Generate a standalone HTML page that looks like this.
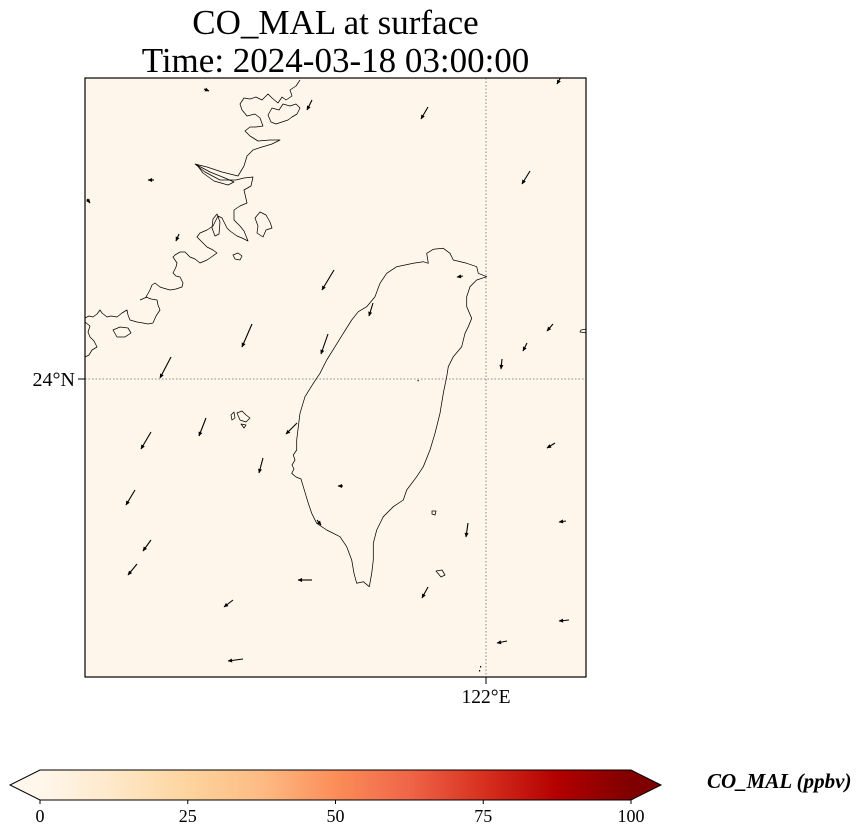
<!DOCTYPE html>
<html>
<head>
<meta charset="utf-8">
<style>
  html, body { margin:0; padding:0; background:#ffffff; }
  body { width:860px; height:836px; overflow:hidden; position:relative; }
  svg { position:absolute; left:0; top:0; }
  .serif { font-family: "Liberation Serif", "Times New Roman", serif; }
</style>
</head>
<body>
<svg width="860" height="836" viewBox="0 0 860 836" xmlns="http://www.w3.org/2000/svg">
  <defs>
    <marker id="ah" viewBox="0 0 10 10" refX="9" refY="5" markerWidth="5" markerHeight="4.5" orient="auto" markerUnits="userSpaceOnUse">
      <path d="M0,0.5 L10,5 L0,9.5 z" fill="#000"/>
    </marker>
    <linearGradient id="cb" x1="0" y1="0" x2="1" y2="0">
      <stop offset="0" stop-color="#fff7ec"/>
      <stop offset="0.125" stop-color="#fee8c8"/>
      <stop offset="0.25" stop-color="#fdd49e"/>
      <stop offset="0.375" stop-color="#fdbb84"/>
      <stop offset="0.5" stop-color="#fc8d59"/>
      <stop offset="0.625" stop-color="#ef6548"/>
      <stop offset="0.75" stop-color="#d7301f"/>
      <stop offset="0.875" stop-color="#b30000"/>
      <stop offset="1" stop-color="#7f0000"/>
    </linearGradient>
    <clipPath id="mapclip"><rect x="85" y="78" width="501" height="599"/></clipPath>
  </defs>

  <!-- Title -->
  <text class="serif" x="335.5" y="34" font-size="35" text-anchor="middle" fill="#000">CO_MAL at surface</text>
  <text class="serif" x="335.5" y="72" font-size="35" text-anchor="middle" fill="#000">Time: 2024-03-18 03:00:00</text>

  <!-- Map background -->
  <rect x="85" y="78" width="501" height="599" fill="#fef6eb"/>

  <g clip-path="url(#mapclip)">
    <!-- gridlines -->
    <line x1="486" y1="78" x2="486" y2="677" stroke="#888" stroke-width="1" stroke-dasharray="1.5,2"/>
    <line x1="85" y1="379" x2="586" y2="379" stroke="#888" stroke-width="1" stroke-dasharray="1.5,2"/>

    <g fill="none" stroke="#000" stroke-width="0.75" stroke-linejoin="round">
      <!-- Taiwan -->
      <path d="M426.7,253.3 L433.3,249.3 L443.3,248.3 L450,253.3 L453.3,260 L466.7,263.3 L476.7,266.7 L478.3,273.3 L486.7,276.7 L476.7,280 L470,286.7 L466.7,296.7 L466.7,306.7 L471.7,318.3 L468.3,326.7 L465,333.3 L461.7,346.7 L453.3,356.7 L448.3,366.7 L446.7,376.7 L443.3,393.3 L440,413.3 L435,433.3 L430,450 L423.3,466.7 L416.7,476.7 L406.7,490 L403.3,500 L393.3,506.7 L383.3,516.7 L376.7,530 L373.3,543.3 L373.3,560 L371.7,573.3 L369.3,586.7 L363.3,581.7 L356.7,583.3 L354,573.3 L351.7,560 L346.7,546.7 L340,536.7 L326.7,530 L316.7,523.3 L311.7,513.3 L308.3,503.3 L303.3,486.7 L301,479 L296,477 L291.7,473.3 L294,469 L292,465 L295,460 L293.3,455 L296.7,450 L296.7,440 L298.3,426.7 L300,413.3 L305,396.7 L313.3,383.3 L320,373.3 L326.7,360 L335,346.7 L343.3,333.3 L351.7,320 L358.3,311.7 L366.7,306.7 L375,296.7 L380,283.3 L386.7,273.3 L396.7,266.7 L413.3,263.3 L423.3,261.7 L428.3,263.3 Z"/>
      <!-- China mainland coast -->
      <path d="M300,80 L296,86 L290,90 L292,96 L286,100 L282,97 L278,103 L272,98 L268,94 L262,100 L256,97 L250,99 L244,98 L240,104 L242,110 L247,116 L255,114 L260,118 L263,126 L256,127 L250,127 L245,131 L250,136 L258,141 L270,140 L280,140 L272,144 L262,147 L253,150 L247,156 L244,166 L238,176 L222,172 L207,167 L195,164 L205,172 L220,180 L236,180 L244,178 L253,177 L251,186 L244,190 L247,203 L240,206 L234,210 L234,220 L240,226 L244,231 L248,241 L242,238 L237,236 L230,231 L227,228 L222,218 L218,216 L213,226 L207,230 L200,233 L197,237 L203,243 L207,247 L213,250 L217,253 L210,258 L207,260 L200,263 L195,259 L190,257 L185,252 L180,252 L175,255 L173,257 L177,263 L176,267 L173,273 L176,276 L180,277 L183,283 L182,287 L176,289 L170,290 L163,288 L160,287 L155,283 L152,285 L150,290 L146,297 L151,299 L157,300 L158,305 L160,310 L156,316 L153,323 L148,324 L143,323 L137,322 L130,320 L128,315 L127,310 L122,313 L117,317 L111,316 L107,317 L102,313 L100,310 L97,314 L93,317 L89,316 L85,318"/>
      <path d="M85,322 L90,326 L88,332 L90,337 L94,341 L97,347 L92,350 L89,355 L85,357"/>
      <path d="M197,165 L210,172 L225,178 L234,182 L228,185 L214,181 L203,173 Z"/>
      <!-- islands -->
      <path d="M268,115 L272,108 L279,110 L283,104 L290,106 L296,104 L300,108 L297,114 L292,117 L288,120 L282,122 L276,124 L271,122 Z"/>
      <path d="M255,218 L260,212 L266,215 L270,222 L272,228 L266,230 L263,237 L257,233 L258,226 Z"/>
      <path d="M113,330 L120,327 L128,328 L131,333 L125,337 L117,337 Z"/>
      <path d="M233,255 L238,253 L242,256 L240,260 L235,259 Z"/>
      <path d="M213,219 L217,214 L220,222 L219,234 L215,236 L212,228 Z"/>
      <path d="M237,413 L242,411 L246,415 L250,418 L246,422 L240,420 Z"/>
      <path d="M231,415 L234,412 L235,418 L232,420 Z"/>
      <path d="M241,424 L246,425 L244,428 Z"/>
      <path d="M432,511 L436,511 L435,515 L432,514 Z"/>
      <path d="M436,571 L442,570 L445,575 L441,577 Z"/>
      <path d="M587,329 L581,330 L580,332 L587,333"/>
      <path d="M147,297 L140,300"/>
    </g>

    <!-- wind arrows -->
    <g stroke="#000" stroke-width="1.1" fill="none" marker-end="url(#ah)">
      <line x1="561" y1="77" x2="557" y2="84"/>
      <line x1="428" y1="107" x2="421" y2="119"/>
      <line x1="312" y1="100" x2="307" y2="110"/>
      <line x1="204" y1="89" x2="209" y2="91"/>
      <line x1="530" y1="171" x2="522" y2="184"/>
      <line x1="154" y1="180" x2="148" y2="180"/>
      <line x1="87" y1="199" x2="90" y2="203"/>
      <line x1="179" y1="234" x2="176" y2="241"/>
      <line x1="334" y1="270" x2="322" y2="290"/>
      <line x1="373" y1="303" x2="369" y2="316"/>
      <line x1="463" y1="276" x2="457" y2="277"/>
      <line x1="252" y1="324" x2="242" y2="347"/>
      <line x1="328" y1="334" x2="321" y2="354"/>
      <line x1="171" y1="357" x2="160" y2="378"/>
      <line x1="553" y1="324" x2="547" y2="331"/>
      <line x1="527" y1="343" x2="523" y2="351"/>
      <line x1="502" y1="359" x2="501" y2="369"/>
      <line x1="206" y1="418" x2="199" y2="436"/>
      <line x1="151" y1="432" x2="141" y2="449"/>
      <line x1="263" y1="458" x2="259" y2="473"/>
      <line x1="297" y1="423" x2="286" y2="434"/>
      <line x1="135" y1="490" x2="126" y2="505"/>
      <line x1="151" y1="540" x2="143" y2="551"/>
      <line x1="137" y1="564" x2="128" y2="575"/>
      <line x1="312" y1="580" x2="298" y2="580"/>
      <line x1="343" y1="486" x2="338" y2="486"/>
      <line x1="468" y1="523" x2="466" y2="537"/>
      <line x1="555" y1="443" x2="547" y2="448"/>
      <line x1="566" y1="521" x2="559" y2="522"/>
      <line x1="428" y1="587" x2="422" y2="598"/>
      <line x1="233" y1="600" x2="224" y2="607"/>
      <line x1="243" y1="659" x2="228" y2="661"/>
      <line x1="507" y1="641" x2="497" y2="643"/>
      <line x1="569" y1="620" x2="559" y2="621"/>
      <line x1="317" y1="520" x2="321" y2="525"/>
    </g>
    <rect x="417.5" y="380" width="1.2" height="1.2" fill="#000"/>
    <rect x="480" y="666" width="1.2" height="1.5" fill="#000"/>
    <rect x="479" y="670" width="1.2" height="1.5" fill="#000"/>
  </g>

  <!-- Map frame -->
  <rect x="85" y="78" width="501" height="599" fill="none" stroke="#000" stroke-width="1.2"/>

  <!-- Axis ticks and labels -->
  <line x1="78" y1="379" x2="85" y2="379" stroke="#000" stroke-width="1"/>
  <text class="serif" x="75" y="386" font-size="20" text-anchor="end" fill="#000">24°N</text>
  <line x1="486" y1="677" x2="486" y2="684" stroke="#000" stroke-width="1"/>
  <text class="serif" x="486" y="703" font-size="19.5" text-anchor="middle" fill="#000">122°E</text>

  <!-- Colorbar -->
  <polygon points="40,770 10,785 40,800" fill="#fff7ec"/>
  <polygon points="631,770 661,785 631,800" fill="#7f0000"/>
  <rect x="40" y="770" width="591" height="30" fill="url(#cb)"/>
  <polygon points="40,770 631,770 661,785 631,800 40,800 10,785" fill="none" stroke="#000" stroke-width="1"/>
  <g stroke="#000" stroke-width="1">
    <line x1="40" y1="800" x2="40" y2="804"/>
    <line x1="187.75" y1="800" x2="187.75" y2="804"/>
    <line x1="335.5" y1="800" x2="335.5" y2="804"/>
    <line x1="483.25" y1="800" x2="483.25" y2="804"/>
    <line x1="631" y1="800" x2="631" y2="804"/>
  </g>
  <g class="serif" font-size="18" text-anchor="middle" fill="#000">
    <text x="40" y="822">0</text>
    <text x="187.75" y="822">25</text>
    <text x="335.5" y="822">50</text>
    <text x="483.25" y="822">75</text>
    <text x="631" y="822">100</text>
  </g>
  <text class="serif" x="707" y="788" font-size="21" font-weight="bold" font-style="italic" fill="#000">CO_MAL (ppbv)</text>
</svg>
</body>
</html>
